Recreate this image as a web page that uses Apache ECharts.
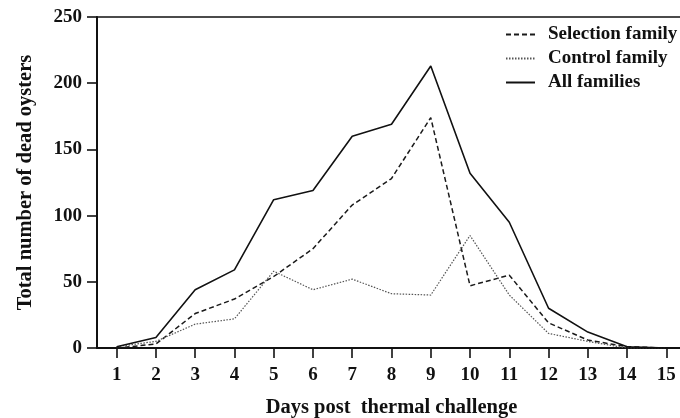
<!DOCTYPE html>
<html>
<head>
<meta charset="utf-8">
<script src="https://cdn.jsdelivr.net/npm/echarts@6/dist/echarts.min.js"></script>
<style>
  html, body { margin: 0; padding: 0; background: #fff; }
  #chart { width: 680px; height: 418px; }
</style>
</head>
<body>
<div id="chart"></div>
<script>
// days after the thermal challenge
const days = ['1', '2', '3', '4', '5', '6', '7', '8', '9', '10', '11', '12', '13', '14', '15'];

// dead oysters per day
const selectionFamily = [0, 3, 26, 37, 54, 75, 108, 128, 174, 47, 55, 19, 6, 1, 0];
const controlFamily = [1, 5, 18, 22, 58, 44, 52, 41, 40, 85, 40, 11, 5, 0, 0];
const allFamilies = [1, 8, 44, 59, 112, 119, 160, 169, 213, 132, 95, 30, 12, 1, 0];

const yTicks = { min: 0, max: 250, step: 50 };

const serif = '"Liberation Serif", "DejaVu Serif", serif';

const chart = echarts.init(document.getElementById('chart'));

const lineSeries = (name, data, type, width, color) => ({
  name: name,
  type: 'line',
  data: data,
  symbol: 'none',
  silent: true,
  xAxisIndex: 0,
  lineStyle: { color: color, width: width, type: type },
  itemStyle: { color: color }
});

chart.setOption({
  animation: false,
  backgroundColor: '#fff',
  grid: { left: 97, top: 17, width: 589, height: 331, outerBoundsMode: 'none', containLabel: false },
  legend: {
    orient: 'vertical',
    left: 500,
    top: 20,
    itemWidth: 29,
    itemHeight: 14,
    itemGap: 5,
    itemStyle: { opacity: 0 },
    textStyle: {
      fontFamily: serif, fontWeight: 'bold', fontSize: 19, color: '#111',
      padding: [0, 0, 0, 8]
    },
    data: ['Selection family', 'Control family', 'All families']
  },
  xAxis: [
    {
      type: 'category',
      data: days,
      boundaryGap: true,
      name: 'Days post  thermal challenge',
      nameLocation: 'middle',
      nameGap: 49,
      nameTextStyle: { fontFamily: serif, fontWeight: 'bold', fontSize: 20.5, color: '#111' },
      axisLine: { lineStyle: { color: '#111', width: 2 } },
      axisTick: { show: true, alignWithLabel: true, length: 10, lineStyle: { color: '#111', width: 1.6 } },
      axisLabel: { margin: 18, fontFamily: serif, fontWeight: 'bold', fontSize: 19, color: '#111' },
      splitLine: { show: false }
    },
    {
      type: 'category',
      position: 'top',
      data: days,
      axisLine: { lineStyle: { color: '#111', width: 1.5 } },
      axisTick: { show: false },
      axisLabel: { show: false }
    }
  ],
  yAxis: {
    type: 'value',
    min: yTicks.min,
    max: yTicks.max,
    interval: yTicks.step,
    name: 'Total number of dead oysters',
    nameLocation: 'middle',
    nameGap: 61,
    nameTextStyle: { fontFamily: serif, fontWeight: 'bold', fontSize: 20.5, color: '#111' },
    axisLine: { show: true, lineStyle: { color: '#111', width: 2 } },
    axisTick: { show: true, length: 10, lineStyle: { color: '#111', width: 1.6 } },
    axisLabel: { margin: 15, fontFamily: serif, fontWeight: 'bold', fontSize: 19, color: '#111' },
    splitLine: { show: false }
  },
  series: [
    lineSeries('Selection family', selectionFamily, [5, 3], 1.5, '#1a1a1a'),
    lineSeries('Control family', controlFamily, [1.5, 1.5], 1.2, '#555'),
    lineSeries('All families', allFamilies, 'solid', 1.6, '#111')
  ]
});
</script>
</body>
</html>
